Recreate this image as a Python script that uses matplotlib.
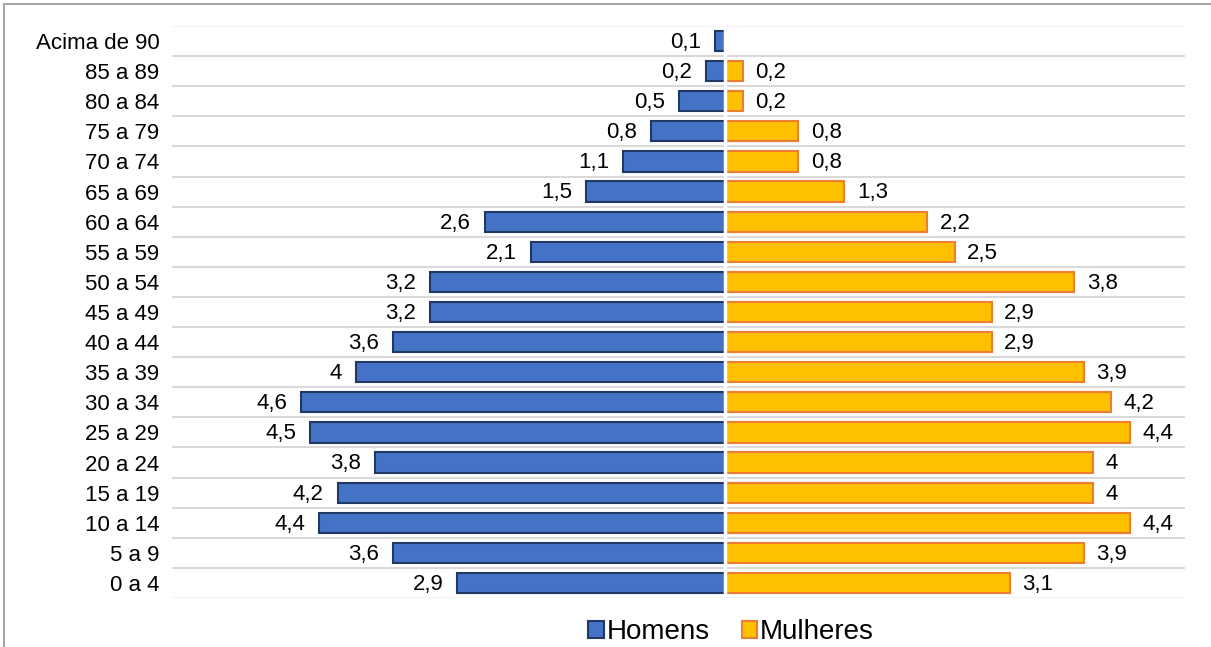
import matplotlib.pyplot as plt
import numpy as np
from matplotlib.lines import Line2D
from matplotlib.patches import Patch

plt.rcParams['font.family'] = ['Liberation Sans', 'DejaVu Sans']

faixas = ['Acima de 90', '85 a 89', '80 a 84', '75 a 79', '70 a 74', '65 a 69',
          '60 a 64', '55 a 59', '50 a 54', '45 a 49', '40 a 44', '35 a 39',
          '30 a 34', '25 a 29', '20 a 24', '15 a 19', '10 a 14', '5 a 9', '0 a 4']
homens = [0.1, 0.2, 0.5, 0.8, 1.1, 1.5, 2.6, 2.1, 3.2, 3.2, 3.6, 4.0,
          4.6, 4.5, 3.8, 4.2, 4.4, 3.6, 2.9]
mulheres = [np.nan, 0.2, 0.2, 0.8, 0.8, 1.3, 2.2, 2.5, 3.8, 2.9, 2.9, 3.9,
            4.2, 4.4, 4.0, 4.0, 4.4, 3.9, 3.1]

azul, azul_borda = '#4472C4', '#203864'
amarelo, laranja = '#FFC000', '#ED7D31'


def rotulo(v):
    return ('%g' % v).replace('.', ',')


W, H = 1211, 647
fig = plt.figure(figsize=(W / 100, H / 100), dpi=100)
ax = fig.add_axes([172 / W, 1 - 598 / H, (1185 - 172) / W, (598 - 26) / H])

y = np.arange(len(faixas))
h = np.array(homens)
m = np.array(mulheres)

ax.barh(y, -h, height=0.67, color=azul, edgecolor=azul_borda, linewidth=1.5, zorder=3)
ax.barh(y, np.nan_to_num(m), height=0.67, color=amarelo, edgecolor=laranja,
        linewidth=1.5, zorder=3)

# white divider on the zero line
ax.axvline(0, color='white', linewidth=2.5, zorder=4)

for yi, v in zip(y, h):
    ax.annotate(rotulo(v), (-v, yi), xytext=(-10, -1), textcoords='offset points',
                ha='right', va='center', fontsize=16)
for yi, v in zip(y, m):
    if np.isnan(v):
        continue
    ax.annotate(rotulo(v), (v, yi), xytext=(9, -1), textcoords='offset points',
                ha='left', va='center', fontsize=16)

# gridlines between the age groups
for b in np.arange(0.5, len(faixas) - 1, 1):
    ax.axhline(b, color='#D9D9D9', linewidth=1.5, zorder=1)
for b in (-0.5, len(faixas) - 0.5):
    ax.axhline(b, color='#F2F2F2', linewidth=1.5, zorder=1)

ax.set_xlim(-6, 5)
ax.set_ylim(len(faixas) - 0.5, -0.5)
ax.set_yticks(y)
ax.set_yticklabels(faixas, fontsize=16)
ax.set_xticks([])
ax.tick_params(axis='y', length=0, pad=9)
for s in ax.spines.values():
    s.set_visible(False)

handles = [Patch(facecolor=azul, edgecolor=azul_borda, linewidth=1.5, label='Homens'),
           Patch(facecolor=amarelo, edgecolor=laranja, linewidth=1.5, label='Mulheres')]
fig.legend(handles=handles, loc='center', bbox_to_anchor=(731 / W, 1 - 632 / H),
           ncol=2, frameon=False, fontsize=20, handlelength=0.55, handleheight=0.55,
           handletextpad=0.1, columnspacing=1.15)

# outer chart border (left and top edges)
fig.add_artist(Line2D([4 / W, 4 / W], [0, 1 - 4 / H], color='#A6A6A6', linewidth=1.5))
fig.add_artist(Line2D([4 / W, 1], [1 - 4 / H, 1 - 4 / H], color='#A6A6A6', linewidth=1.5))

fig.savefig('out.png', dpi=100)
